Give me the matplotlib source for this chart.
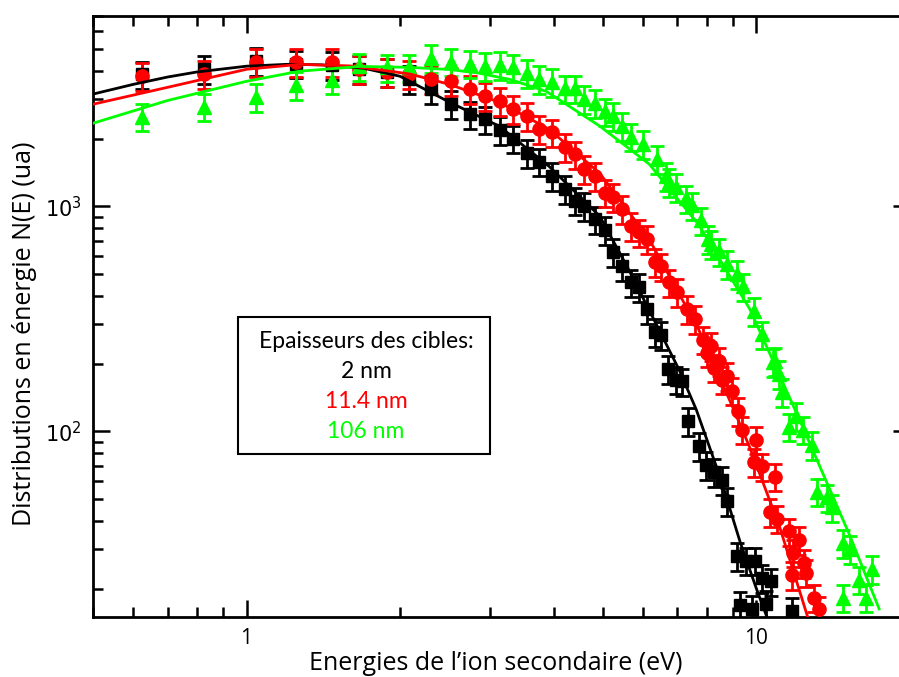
import numpy as np
import matplotlib
matplotlib.use("Agg")
import matplotlib.pyplot as plt
from matplotlib.ticker import LogLocator, NullFormatter
from matplotlib.patches import Rectangle

plt.rcParams["mathtext.fontset"] = "custom"
plt.rcParams["mathtext.rm"] = "Liberation Sans"

# Donnees (energie en eV, N(E) en ua)
E_2nm = [0.625, 0.827, 1.046, 1.253, 1.468, 1.665, 1.882, 2.087, 2.305, 2.523, 2.737, 2.929,
         3.135, 3.324, 3.556, 3.754, 3.981, 4.203, 4.397, 4.599, 4.813, 5.035, 5.22, 5.437,
         5.687, 5.896, 6.113, 6.31, 6.51, 6.72, 6.96, 7.16, 7.35, 7.73, 7.97, 8.27, 8.57,
         8.77, 9.14, 9.53, 9.94, 10.27, 10.7, 9.3, 9.78, 10.46, 11.72]
N_2nm = [3850, 4060, 4410, 4300, 4250, 4060, 3940, 3670, 3310, 2840, 2560, 2430,
         2180, 2000, 1720, 1580, 1360, 1190, 1060, 1000, 875, 785, 625, 541,
         459, 437, 349, 276, 268, 189, 170, 167, 111, 86, 71, 66, 61,
         49, 28, 26.7, 26.7, 22.3, 21.6, 17.0, 16.3, 17.2, 16.0]

E_11nm = [0.625, 0.827, 1.046, 1.253, 1.468, 1.665, 1.882, 2.087, 2.305, 2.523, 2.737, 2.929,
          3.135, 3.324, 3.556, 3.754, 3.981, 4.203, 4.397, 4.599, 4.813, 5.035, 5.22, 5.437,
          5.687, 5.896, 6.113, 6.31, 6.51, 6.75, 7.0, 7.32, 7.56, 7.84, 7.98, 8.16, 8.27,
          8.46, 8.54, 8.77, 8.97, 9.18, 9.35, 9.91, 10.0, 10.27, 10.62, 10.85, 10.98, 11.6,
          11.72, 11.77, 12.14, 12.42, 12.53, 12.99, 13.29]
N_11nm = [3785, 3860, 4370, 4370, 4370, 4060, 3940, 3870, 3670, 3590, 3310, 3080,
          2930, 2700, 2510, 2200, 2130, 1830, 1700, 1460, 1360, 1150, 1100, 970,
          815, 766, 714, 564, 541, 459, 415, 349, 315, 256, 224, 239, 192,
          205, 170, 176, 152, 123, 102, 73, 92, 70, 44, 63, 41, 36,
          23, 29, 33, 26, 23.6, 18.3, 16.2]

E_106nm = [0.625, 0.827, 1.046, 1.253, 1.468, 1.665, 1.882, 2.087, 2.305, 2.523, 2.737, 2.929,
           3.135, 3.324, 3.556, 3.754, 3.981, 4.203, 4.397, 4.599, 4.813, 5.035, 5.22, 5.437,
           5.687, 5.98, 6.37, 6.66, 6.75, 6.96, 7.29, 7.49, 7.8, 8.02, 8.16, 8.46, 8.77,
           9.14, 9.39, 9.91, 10.27, 10.77, 10.85, 11.09, 11.24, 11.6, 11.98, 12.31, 12.82,
           13.17, 13.72, 14.09, 14.75, 14.75, 15.22, 15.92, 16.43, 16.88]
N_106nm = [2500, 2770, 3050, 3450, 3650, 4180, 4140, 4140, 4550, 4390, 4300, 4200,
           4250, 4140, 3900, 3670, 3570, 3340, 3340, 3000, 2870, 2640, 2510, 2270,
           2040, 1890, 1620, 1360, 1280, 1215, 1085, 1010, 865, 714, 678, 631, 553,
           500, 441, 342, 270, 203, 205, 180, 150, 105, 117, 102, 87,
           54, 51, 46, 32, 18.3, 30, 22, 18.3, 24.5]

# Courbes ajustees
Efit_2nm = [0.5, 0.6, 0.7, 0.8, 1.0, 1.2, 1.4, 1.7, 2.0, 2.5, 3.13, 3.92, 4.93, 5.6, 6.25,
            7.05, 7.62, 8.5, 9.3, 10.0, 10.6]
Nfit_2nm = [3150, 3480, 3750, 3950, 4190, 4270, 4250, 4100, 3780, 2900, 2270, 1505, 903, 530,
            324, 188, 125, 62, 32, 20, 14]

Efit_11nm = [0.5, 0.7, 1.0, 1.27, 1.6, 2.09, 2.5, 3.13, 3.92, 4.93, 6.16, 7.7, 8.97, 9.7,
             11.09, 12.6, 13.0]
Nfit_11nm = [2840, 3375, 4060, 4270, 4200, 3870, 3480, 2900, 2200, 1400, 714, 284, 129, 85,
             38, 15, 12]

Efit_106nm = [0.5, 0.7, 1.0, 1.27, 1.67, 2.09, 2.5, 2.86, 3.3, 3.87, 4.93, 6.16, 7.7, 9.7,
              12.14, 15.2, 17.4]
Nfit_106nm = [2338, 2950, 3590, 3980, 4180, 4140, 4050, 3900, 3650, 3240, 2270, 1540, 830,
              350, 113, 35, 16.3]

rel_err = 0.14
GREEN = "#00ff00"

fig = plt.figure(figsize=(8.99, 6.77), dpi=100)
ax = fig.add_axes([93/899, 60/677, 817/899, 601/677])

series = [
    (E_2nm, N_2nm, Efit_2nm, Nfit_2nm, "black", "s", 8),
    (E_11nm, N_11nm, Efit_11nm, Nfit_11nm, "red", "o", 9.5),
    (E_106nm, N_106nm, Efit_106nm, Nfit_106nm, GREEN, "^", 10),
]
for E, N, Ef, Nf, c, m, ms in series:
    N = np.array(N)
    ax.errorbar(E, N, yerr=rel_err * N, fmt=m, color=c, mec=c, ms=ms,
                elinewidth=2, capsize=5, capthick=2, zorder=3)
for E, N, Ef, Nf, c, m, ms in series:
    ax.plot(Ef, Nf, color=c, lw=2, zorder=4)

ax.set_xscale("log")
ax.set_yscale("log")
ax.set_xlim(0.5, 20)
ax.set_ylim(15, 7000)

ax.set_xticks([1, 10])
ax.set_xticklabels(["1", "10"], fontsize=15, family="Open Sans")
ax.set_yticks([100, 1000])
ax.set_yticklabels([r"$\mathregular{10^2}$", r"$\mathregular{10^3}$"], fontsize=15)
ax.xaxis.set_minor_locator(LogLocator(subs=np.arange(2, 10)))
ax.yaxis.set_minor_locator(LogLocator(subs=np.arange(2, 10)))
ax.xaxis.set_minor_formatter(NullFormatter())
ax.yaxis.set_minor_formatter(NullFormatter())
ax.tick_params(which="both", direction="in", top=True, right=True, width=1.8)
ax.tick_params(which="major", length=12, pad=8)
ax.tick_params(which="minor", length=7)
for s in ax.spines.values():
    s.set_linewidth(2)

fig.text(496/899, 7/677, "Energies de l\u2019ion secondaire (eV)", ha="center", va="baseline",
         fontsize=18, family="Open Sans")
fig.text(25/899, 1 - 334/677, "Distributions en \u00e9nergie N(E) (ua)", ha="center", va="center",
         rotation=90, fontsize=18, family="Open Sans")

# Encadre des epaisseurs
fig.patches.append(Rectangle((238/899, 1 - 454/677), 252/899, 137/677, transform=fig.transFigure,
                             fill=True, facecolor="white", edgecolor="black", lw=1.5, zorder=5))
lines = [("Epaisseurs des cibles:", "black", 342), ("2 nm", "black", 372),
         ("11.4 nm", "red", 402), ("106 nm", GREEN, 432)]
for txt, c, y in lines:
    fig.text(366/899, 1 - y/677, txt, color=c, ha="center", va="center", fontsize=16.5,
             family="Lato", zorder=6)

fig.savefig("out.png", dpi=100)
